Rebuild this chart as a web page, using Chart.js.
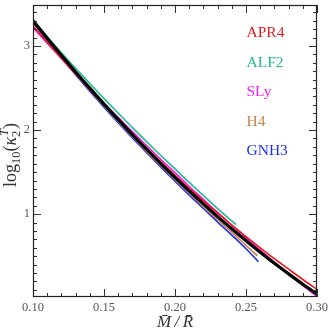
<!DOCTYPE html>
<html><head><meta charset="utf-8">
<script src="https://cdn.jsdelivr.net/npm/chart.js@4.4.0/dist/chart.umd.min.js"></script>
<style>html,body{margin:0;padding:0;background:#fff}canvas{display:block}</style>
</head><body>
<canvas id="c" width="332" height="336"></canvas>
<script>
// ---- data ----
const eosNames  = ['APR4', 'ALF2', 'SLy', 'H4', 'GNH3'];
const eosColors = ['#e8191c', '#1fb994', '#f01ef0', '#c68445', '#2030f0'];

const fitC = [0.10,0.11,0.12,0.13,0.14,0.15,0.16,0.17,0.18,0.19,0.20,0.21,0.22,0.23,0.24,0.25,0.26,0.27,0.28,0.29,0.30];
const fitV = [3.300,3.092,2.890,2.691,2.498,2.309,2.126,1.946,1.772,1.602,1.438,1.277,1.122,0.971,0.826,0.684,0.548,0.416,0.290,0.167,0.050];

const apr4C = [0.10,0.11,0.12,0.13,0.14,0.15,0.16,0.17,0.18,0.19,0.20,0.21,0.22,0.23,0.24,0.25,0.26,0.27,0.28,0.29,0.30];
const apr4V = [3.240,3.045,2.855,2.666,2.483,2.302,2.126,1.954,1.787,1.622,1.463,1.307,1.157,1.011,0.871,0.733,0.600,0.470,0.346,0.223,0.105];

const alf2C = [0.10,0.11,0.12,0.13,0.14,0.15,0.16,0.17,0.18,0.19,0.20,0.21,0.22,0.23,0.243];
const alf2V = [3.310,3.112,2.920,2.734,2.553,2.374,2.201,2.029,1.862,1.697,1.538,1.377,1.222,1.066,0.875];

const slyC = [0.10,0.11,0.12,0.13,0.14,0.15,0.16,0.17,0.18,0.19,0.20,0.21,0.22,0.23,0.24,0.25,0.26,0.27,0.28,0.29,0.30];
const slyV = [3.220,3.032,2.850,2.669,2.493,2.319,2.151,1.981,1.817,1.652,1.493,1.332,1.177,1.021,0.871,0.719,0.573,0.429,0.290,0.152,0.020];

const h4C = [0.10,0.12,0.14,0.16,0.18,0.20,0.21,0.22,0.23,0.24,0.25,0.258];
const h4V = [3.290,2.875,2.478,2.104,1.747,1.413,1.250,1.092,0.936,0.786,0.629,0.505];

const gnh3C = [0.10,0.11,0.12,0.13,0.14,0.15,0.16,0.17,0.18,0.19,0.20,0.21,0.22,0.23,0.24,0.25,0.2587];
const gnh3V = [3.280,3.067,2.860,2.659,2.463,2.272,2.086,1.906,1.732,1.560,1.393,1.227,1.067,0.906,0.751,0.589,0.435];

const xTickVals = [0.10, 0.15, 0.20, 0.25, 0.30];
const yTickVals = [1, 2, 3];

// ---- build ----
const pts = (cs, vs) => cs.map((c, i) => ({x: c, y: vs[i]}));
const eosSeries = [[apr4C, apr4V], [alf2C, alf2V], [slyC, slyV], [h4C, h4V], [gnh3C, gnh3V]];

const datasets = [{
  label: 'fit', data: pts(fitC, fitV), borderColor: '#000', borderWidth: 3.2,
  pointRadius: 0, cubicInterpolationMode: 'monotone', order: 0
}];
eosSeries.forEach((s, i) => datasets.push({
  label: eosNames[i], data: pts(s[0], s[1]), borderColor: eosColors[i], borderWidth: 1.6,
  pointRadius: 0, cubicInterpolationMode: 'monotone', order: i + 1
}));

const serif = '"Liberation Serif", "DejaVu Serif", serif';

const frameTicks = {
  id: 'frameTicks',
  afterDraw(chart) {
    const {ctx, chartArea: a, scales: {x, y}} = chart;
    ctx.save();
    ctx.strokeStyle = '#333';
    ctx.lineWidth = 1;
    ctx.beginPath();
    for (let k = 0; k <= 20; k++) {
      const v = 0.10 + k * 0.01;
      const px = Math.round(x.getPixelForValue(v)) + 0.5;
      const L = (k % 5 === 0) ? 8 : 4;
      ctx.moveTo(px, a.bottom); ctx.lineTo(px, a.bottom - L);
      ctx.moveTo(px, a.top); ctx.lineTo(px, a.top + L);
    }
    for (let k = 1; k <= 34; k++) {
      const v = k * 0.1;
      const py = Math.round(y.getPixelForValue(v)) + 0.5;
      const L = (k % 10 === 0) ? 8 : 4;
      ctx.moveTo(a.left, py); ctx.lineTo(a.left + L, py);
      ctx.moveTo(a.right, py); ctx.lineTo(a.right - L, py);
    }
    ctx.stroke();
    ctx.lineWidth = 1.2;
    ctx.strokeStyle = '#222';
    ctx.strokeRect(a.left + 0.5, a.top + 0.5, a.right - a.left - 1, a.bottom - a.top - 1);
    // legend text
    ctx.font = '15.5px ' + serif;
    ctx.textBaseline = 'middle';
    ctx.textAlign = 'left';
    eosNames.forEach((n, i) => {
      ctx.fillStyle = eosColors[i];
      ctx.fillText(n, a.left + 213.5, a.top + 28 + i * 29.6);
    });
    // y-axis title: log10(kappa_2^T) with real sub/superscripts
    const big = '18px ' + serif, small = '12.5px ' + serif;
    const bigI = 'italic 18px ' + serif, smallI = 'italic 12.5px ' + serif;
    const parts = [
      {t: 'log', f: big, dy: 0},
      {t: '10', f: small, dy: 4},
      {t: '(', f: big, dy: 0},
      {t: '\u03BA', f: bigI, dy: 0},
      {t: '2', f: small, dy: 4, stackT: true},
      {t: ')', f: big, dy: 0}
    ];
    let total = 0;
    parts.forEach(p => { ctx.font = p.f; p.w = ctx.measureText(p.t).width; if (p.stackT) { ctx.font = smallI; p.w = Math.max(p.w, ctx.measureText('T').width) + 1; } total += p.w; });
    ctx.translate(16, (a.top + a.bottom) / 2 + 4);
    ctx.rotate(-Math.PI / 2);
    ctx.fillStyle = '#333';
    ctx.textBaseline = 'alphabetic';
    let cx = -total / 2;
    parts.forEach(p => {
      ctx.font = p.f;
      ctx.fillText(p.t, cx, p.dy);
      if (p.stackT) { ctx.font = smallI; ctx.fillText('T', cx + 1, -8); }
      cx += p.w;
    });
    ctx.restore();
  }
};

new Chart(document.getElementById('c'), {
  type: 'line',
  data: {datasets},
  options: {
    responsive: false, animation: false, devicePixelRatio: 1,
    layout: {padding: {left: 0, top: 5, right: 15, bottom: 0}},
    plugins: {legend: {display: false}, tooltip: {enabled: false}},
    scales: {
      x: {
        type: 'linear', min: 0.10, max: 0.30,
        grid: {display: false, drawTicks: false},
        border: {display: false},
        afterBuildTicks: s => { s.ticks = xTickVals.map(v => ({value: v})); },
        afterFit: s => { s.height = 39; s.paddingLeft = 0; s.paddingRight = 0; },
        ticks: {color: '#555', font: {family: serif, size: 12.5}, padding: 3,
                maxRotation: 0, callback: v => Number(v).toFixed(2)},
        title: {display: true, text: 'M\u0304\u2009/\u2009R\u0304', color: '#333',
                font: {family: serif, size: 17, style: 'italic'}, padding: {top: 0, bottom: 3}}
      },
      y: {
        type: 'linear', min: 0.015, max: 3.487,
        grid: {display: false, drawTicks: false},
        border: {display: false},
        afterBuildTicks: s => { s.ticks = yTickVals.map(v => ({value: v})); },
        afterFit: s => { s.width = 33; s.paddingTop = 0; s.paddingBottom = 0; },
        ticks: {color: '#555', font: {family: serif, size: 12.5}, padding: 3,
                callback: v => String(v)},
        title: {display: false}
      }
    }
  },
  plugins: [frameTicks]
});
</script>
</body></html>
